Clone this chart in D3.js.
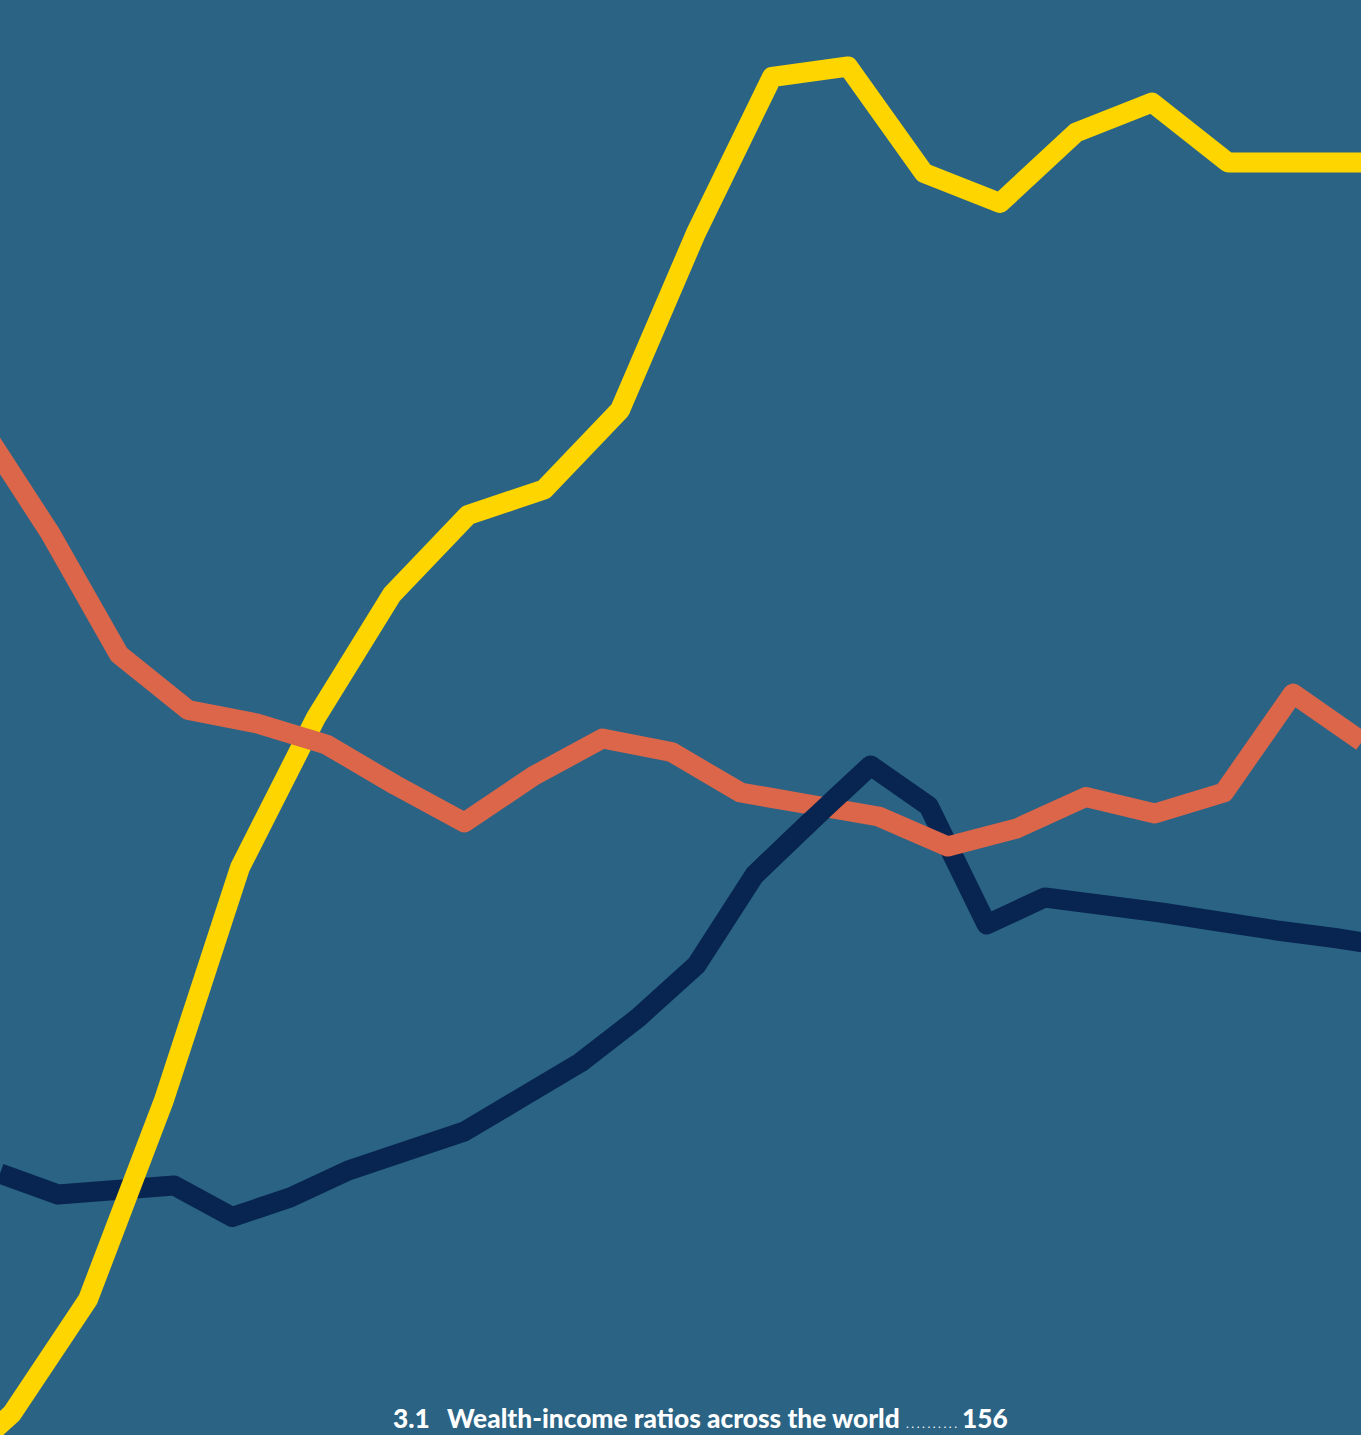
<!DOCTYPE html>
<html>
<head>
<meta charset="utf-8">
<script src="https://cdn.jsdelivr.net/npm/d3@7"></script>
<style>
  html, body { margin: 0; padding: 0; background: #2a6384; }
  svg { display: block; }
</style>
</head>
<body>
<svg id="chart" width="1361" height="1435"></svg>
<script>
// ---- data (wealth-income ratio style values) ----
const yellowValues = [0.35, 0.81, 1.57, 2.90, 4.45, 5.45, 6.27, 6.80, 6.97, 7.50,
                      8.68, 9.72, 9.79, 9.08, 8.88, 9.35, 9.55, 9.15, 9.15, 9.15];
const orangeValues = [7.39, 6.68, 5.87, 5.50, 5.41, 5.27, 5.00, 4.75, 5.06, 5.31,
                      5.22, 4.95, 4.87, 4.79, 4.59, 4.71, 4.92, 4.81, 4.95, 5.61, 5.29];
const navyValues   = [2.41, 2.27, 2.30, 2.33, 2.12, 2.25, 2.43, 2.56, 2.69, 2.92,
                      3.15, 3.45, 3.80, 4.40, 4.77, 5.13, 4.86, 4.07, 4.25, 4.20,
                      4.15, 4.09, 4.03, 3.98, 3.92];
const captionNumber = "3.1";
const captionTitle  = "Wealth-income ratios across the world";
const captionDots   = "..........";
const captionPage   = "156";

// ---- layout ----
const W = 1361, H = 1435;
const colors = { bg: "#2a6384", yellow: "#ffd500", orange: "#db664a", navy: "#072550" };
const strokeW = 20;

const svg = d3.select("#chart");
svg.append("rect").attr("width", W).attr("height", H).attr("fill", colors.bg);

const y = d3.scaleLinear().domain([0, 10]).range([1535, 35]);

// each series has its own sampling along the width
const xYellow = d3.scaleLinear().domain([0, yellowValues.length - 1]).range([-64, 1380]);
const xOrange = d3.scaleLinear().domain([0, orangeValues.length - 1]).range([-19, 1362]);
const xNavy   = d3.scaleLinear().domain([0, navyValues.length - 1]).range([0, 1393]);

function lineFor(xs) {
  return d3.line().x(d => xs(d.i)).y(d => y(d.v));
}
function pts(vals) { return vals.map((v, i) => ({ i, v })); }

const yellowPts = pts(yellowValues), orangePts = pts(orangeValues), navyPts = pts(navyValues);

function draw(data, xs, color) {
  svg.append("path")
    .datum(data)
    .attr("d", lineFor(xs))
    .attr("fill", "none")
    .attr("stroke", color)
    .attr("stroke-width", strokeW)
    .attr("stroke-linejoin", "round")
    .attr("stroke-linecap", "butt");
}

draw(navyPts, xNavy, colors.navy);
draw(yellowPts, xYellow, colors.yellow);
draw(orangePts, xOrange, colors.orange);
// navy passes over orange around its peak
draw(navyPts.slice(13, 16), xNavy, colors.navy);

// ---- caption ----
const cap = svg.append("text")
  .attr("y", 1428)
  .attr("fill", "#ffffff")
  .style("font-family", "Lato, 'Open Sans', sans-serif")
  .style("font-weight", 900)
  .style("font-size", "23px");
cap.append("tspan").attr("x", 393).text(captionNumber);
const title = cap.append("tspan").attr("x", 447).text(captionTitle);
const dots = cap.append("tspan").attr("x", 906)
  .style("font-weight", 400).style("font-size", "12px")
  .attr("textLength", 51).attr("lengthAdjust", "spacing")
  .text(captionDots);
cap.append("tspan").attr("x", 962).text(captionPage);

// fit the title between its start and the leader dots
const measured = title.node().getComputedTextLength();
const fs = 23 * 453 / measured;
cap.style("font-size", fs + "px");
dots.style("font-size", "12px");
</script>
</body>
</html>
